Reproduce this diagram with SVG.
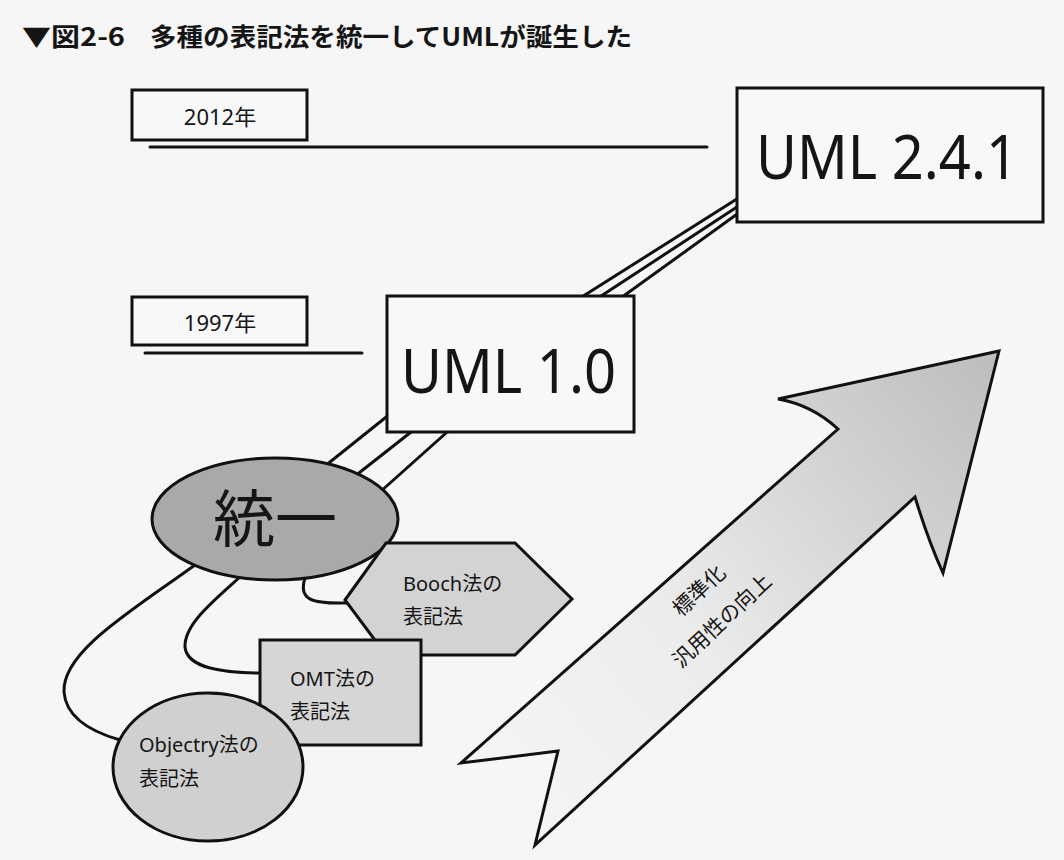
<svg xmlns="http://www.w3.org/2000/svg" width="1064" height="860" viewBox="0 0 1064 860">
<style>
.ln{fill:none;stroke:#111;stroke-width:3;stroke-linecap:round;stroke-linejoin:round}
.box{fill:#f8f8f8;stroke:#111;stroke-width:3}
.t{font-family:"Noto Sans","Noto Sans CJK JP",sans-serif;fill:#151515}
.j{font-family:"Noto Sans CJK JP",sans-serif;fill:#151515}
</style>
<defs>
<linearGradient id="ag" x1="460" y1="800" x2="1000" y2="350" gradientUnits="userSpaceOnUse">
<stop offset="0" stop-color="#f6f6f6"/>
<stop offset="0.4" stop-color="#ececec"/>
<stop offset="1" stop-color="#bcbcbc"/>
</linearGradient>
</defs>
<rect width="1064" height="860" fill="#f6f6f6"/>
<g id="title">
<text class="j" x="22" y="46" font-size="25" font-weight="bold" textLength="103" lengthAdjust="spacingAndGlyphs">▼図2-6</text>
<text class="j" x="150" y="46" font-size="25" font-weight="bold" textLength="482" lengthAdjust="spacingAndGlyphs">多種の表記法を統一してUMLが誕生した</text>
</g>
<g id="connectors">
<line class="ln" x1="150" y1="147" x2="707" y2="147" stroke-width="3.5"/>
<line class="ln" x1="145" y1="353" x2="362" y2="353" stroke-width="3.5"/>
<line class="ln" x1="577" y1="300" x2="740" y2="197"/>
<line class="ln" x1="595" y1="300" x2="740" y2="205"/>
<line class="ln" x1="618" y1="300" x2="740" y2="212"/>
<line class="ln" x1="395" y1="410" x2="320" y2="470"/>
<line class="ln" x1="420" y1="425" x2="350" y2="480"/>
<line class="ln" x1="455" y1="425" x2="380" y2="492"/>
<path class="ln" d="M195,565 C130,612 62,652 64,692 C66,718 92,732 120,740"/>
<path class="ln" d="M240,577 C212,602 184,625 185,647 C187,668 222,673 262,673"/>
<path class="ln" d="M305,578 C298,600 312,604 347,603"/>
</g>
<g id="arrow">
<path d="M999,351 L943,573 Q928,540 915,497 L535,845 L558,751 L461,763 L838,429 Q812,405 778,399 Z" fill="url(#ag)" stroke="#111" stroke-width="3" stroke-linejoin="miter"/>
<text class="j" font-size="21" text-anchor="middle" transform="translate(704,596) rotate(-43)">標準化</text>
<text class="j" font-size="21" text-anchor="middle" transform="translate(727,626) rotate(-43)">汎用性の向上</text>
</g>
<g id="y2012">
<rect class="box" x="132" y="90" width="175" height="50"/>
<text class="t" x="220" y="125" font-size="22" text-anchor="middle">2012年</text>
</g>
<g id="y1997">
<rect class="box" x="132" y="297" width="175" height="48"/>
<text class="t" x="220" y="331" font-size="22" text-anchor="middle">1997年</text>
</g>
<g id="uml241">
<rect class="box" x="737" y="88" width="306" height="134"/>
<text class="t" x="756" y="179" font-size="62" textLength="262" lengthAdjust="spacingAndGlyphs">UML 2.4.1</text>
</g>
<g id="uml10">
<rect class="box" x="387" y="296" width="247" height="136"/>
<text class="t" x="401" y="393" font-size="62" textLength="215" lengthAdjust="spacingAndGlyphs">UML 1.0</text>
</g>
<g id="touitsu">
<ellipse cx="275" cy="519" rx="123" ry="61" fill="#a9a9a9" stroke="#111" stroke-width="3"/>
<text class="j" x="275" y="542" font-size="62" text-anchor="middle">統一</text>
</g>
<g id="booch">
<polygon points="345,600 386,543 515,543 572,599 515,655 386,655" fill="#d3d3d3" stroke="#111" stroke-width="3"/>
<text class="t" x="403" y="591" font-size="20">Booch法の</text>
<text class="t" x="403" y="624" font-size="20">表記法</text>
</g>
<g id="omt">
<rect x="260" y="640" width="161" height="105" fill="#d6d6d6" stroke="#111" stroke-width="3"/>
<text class="t" x="290" y="686" font-size="20">OMT法の</text>
<text class="t" x="290" y="719" font-size="20">表記法</text>
</g>
<g id="objectry">
<ellipse cx="208" cy="767" rx="95" ry="74" fill="#d0d0d0" stroke="#111" stroke-width="3"/>
<text class="t" x="139" y="752" font-size="20">Objectry法の</text>
<text class="t" x="139" y="786" font-size="20">表記法</text>
</g>
</svg>
